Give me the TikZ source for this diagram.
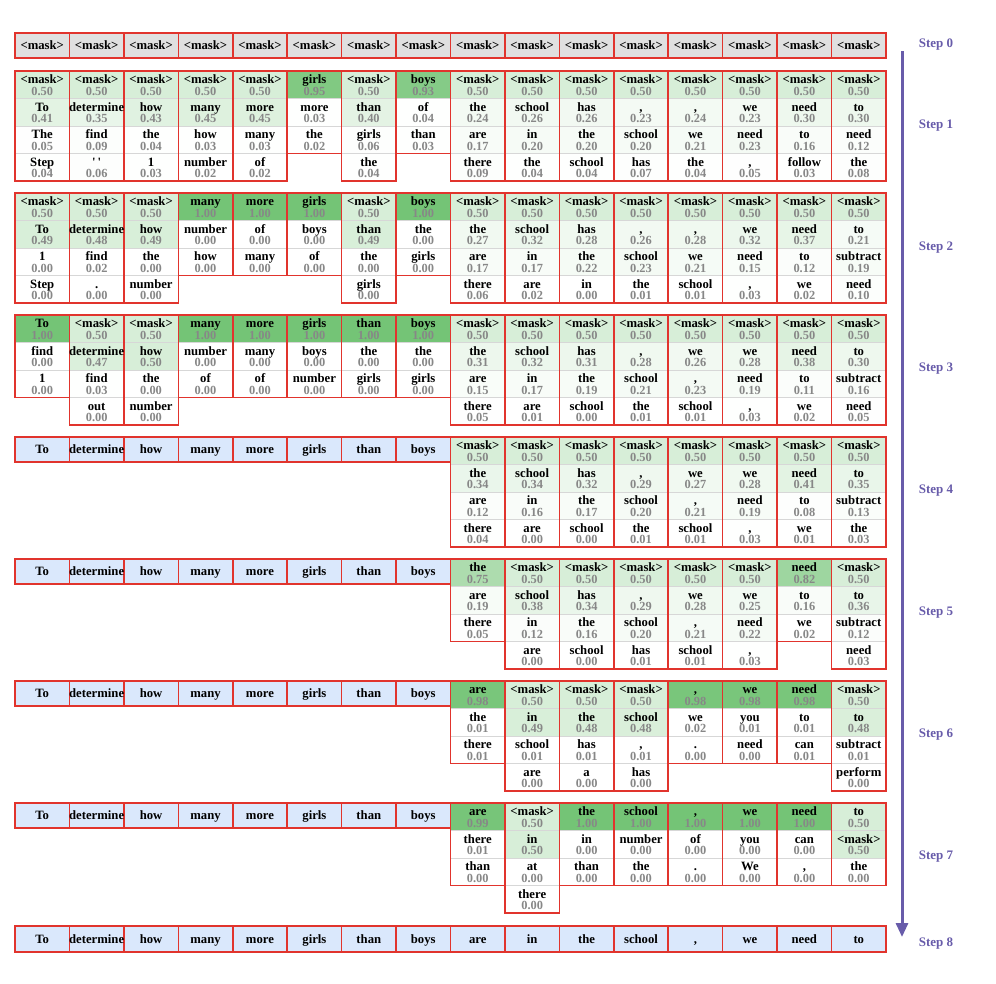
\documentclass[tikz,border=0pt]{standalone}
\usepackage{fontspec}
\setmainfont{Liberation Serif}
\usetikzlibrary{arrows.meta,fit}
\definecolor{cgreen}{RGB}{116,196,118}
\definecolor{cred}{RGB}{225,52,45}
\definecolor{cblue}{RGB}{218,232,252}
\definecolor{cgray}{RGB}{224,224,224}
\definecolor{cpurple}{RGB}{104,92,170}
\definecolor{numgray}{RGB}{135,135,135}
\definecolor{sepgray}{RGB}{215,215,215}
\tikzset{
  cellbg/.style={rectangle, anchor=north west, minimum width=54.4375, minimum height=27.5,
    inner sep=0, outer sep=0, draw=sepgray, line width=0.5},
  flatbg/.style={rectangle, anchor=north west, minimum width=54.4375,
    inner sep=0, outer sep=0},
  redbox/.style={rectangle, inner sep=0, outer sep=0, draw=cred, line width=1.6},
  wordtxt/.style={anchor=base, inner sep=0, font=\fontsize{12.7}{13}\selectfont\bfseries},
  probtxt/.style={anchor=base, inner sep=0, text=numgray, font=\fontsize{12.4}{13}\selectfont\bfseries},
  steplbl/.style={inner sep=0, text=cpurple, font=\fontsize{13}{13}\selectfont\bfseries},
  arrowline/.style={draw=cpurple, line width=3, -{Triangle[width=12,length=14]}}
}
\def\drawmode{0}
\newcommand\stepcol[5]{%
  \pgfmathsetmacro\xl{15+(#2-1)*54.4375}%
  \ifcase\drawmode
    \foreach[count=\r] \w/\p in {#5}{%
      \pgfmathsetmacro\yt{#3+(\r-1)*27.5}%
      \pgfmathsetmacro\pc{100*(0.85*\p*\p+0.15*\p)}%
      \node[cellbg, fill=cgreen!\pc!white] (s#1c#2r\r) at (\xl,-\yt) {};
    }%
  \or
    \node[redbox, fit=(s#1c#2r1)(s#1c#2r#4)] (box#1c#2) {};
  \or
    \foreach[count=\r] \w/\p in {#5}{%
      \node[wordtxt] (s#1c#2r\r-w) at ([yshift=-12.7]s#1c#2r\r.north) {\w};
      \node[probtxt] (s#1c#2r\r-p) at ([yshift=-24]s#1c#2r\r.north) {\p};
    }%
  \fi
}
\newcommand\flatcell[6]{%
  \pgfmathsetmacro\xl{15+(#2-1)*54.4375}%
  \ifcase\drawmode
    \node[flatbg, fill=#5, minimum height=#4] (#1) at (\xl,-#3) {};
  \or
    \node[redbox, fit=(#1)] (#1-box) {};
  \or
    \node[wordtxt] (#1-w) at ([yshift=-4.3]#1.center) {#6};
  \fi
}
\newcommand\alldata{%
% Step 0
\foreach \c in {1,...,16} {\flatcell{f0-\c}{\c}{33}{25}{cgray}{<mask>}}
% Step 1
\stepcol{1}{1}{71}{4}{<mask>/0.50, To/0.41, The/0.05, Step/0.04}
\stepcol{1}{2}{71}{4}{<mask>/0.50, determine/0.35, find/0.09, {\textquotesingle\,\textquotesingle}/0.06}
\stepcol{1}{3}{71}{4}{<mask>/0.50, how/0.43, the/0.04, 1/0.03}
\stepcol{1}{4}{71}{4}{<mask>/0.50, many/0.45, how/0.03, number/0.02}
\stepcol{1}{5}{71}{4}{<mask>/0.50, more/0.45, many/0.03, of/0.02}
\stepcol{1}{6}{71}{3}{girls/0.95, more/0.03, the/0.02}
\stepcol{1}{7}{71}{4}{<mask>/0.50, than/0.40, girls/0.06, the/0.04}
\stepcol{1}{8}{71}{3}{boys/0.93, of/0.04, than/0.03}
\stepcol{1}{9}{71}{4}{<mask>/0.50, the/0.24, are/0.17, there/0.09}
\stepcol{1}{10}{71}{4}{<mask>/0.50, school/0.26, in/0.20, the/0.04}
\stepcol{1}{11}{71}{4}{<mask>/0.50, has/0.26, the/0.20, school/0.04}
\stepcol{1}{12}{71}{4}{<mask>/0.50, {,}/0.23, school/0.20, has/0.07}
\stepcol{1}{13}{71}{4}{<mask>/0.50, {,}/0.24, we/0.21, the/0.04}
\stepcol{1}{14}{71}{4}{<mask>/0.50, we/0.23, need/0.23, {,}/0.05}
\stepcol{1}{15}{71}{4}{<mask>/0.50, need/0.30, to/0.16, follow/0.03}
\stepcol{1}{16}{71}{4}{<mask>/0.50, to/0.30, need/0.12, the/0.08}
% Step 2
\stepcol{2}{1}{193}{4}{<mask>/0.50, To/0.49, 1/0.00, Step/0.00}
\stepcol{2}{2}{193}{4}{<mask>/0.50, determine/0.48, find/0.02, ./0.00}
\stepcol{2}{3}{193}{4}{<mask>/0.50, how/0.49, the/0.00, number/0.00}
\stepcol{2}{4}{193}{3}{many/1.00, number/0.00, how/0.00}
\stepcol{2}{5}{193}{3}{more/1.00, of/0.00, many/0.00}
\stepcol{2}{6}{193}{3}{girls/1.00, boys/0.00, of/0.00}
\stepcol{2}{7}{193}{4}{<mask>/0.50, than/0.49, the/0.00, girls/0.00}
\stepcol{2}{8}{193}{3}{boys/1.00, the/0.00, girls/0.00}
\stepcol{2}{9}{193}{4}{<mask>/0.50, the/0.27, are/0.17, there/0.06}
\stepcol{2}{10}{193}{4}{<mask>/0.50, school/0.32, in/0.17, are/0.02}
\stepcol{2}{11}{193}{4}{<mask>/0.50, has/0.28, the/0.22, in/0.00}
\stepcol{2}{12}{193}{4}{<mask>/0.50, {,}/0.26, school/0.23, the/0.01}
\stepcol{2}{13}{193}{4}{<mask>/0.50, {,}/0.28, we/0.21, school/0.01}
\stepcol{2}{14}{193}{4}{<mask>/0.50, we/0.32, need/0.15, {,}/0.03}
\stepcol{2}{15}{193}{4}{<mask>/0.50, need/0.37, to/0.12, we/0.02}
\stepcol{2}{16}{193}{4}{<mask>/0.50, to/0.21, subtract/0.19, need/0.10}
% Step 3
\stepcol{3}{1}{315}{3}{To/1.00, find/0.00, 1/0.00}
\stepcol{3}{2}{315}{4}{<mask>/0.50, determine/0.47, find/0.03, out/0.00}
\stepcol{3}{3}{315}{4}{<mask>/0.50, how/0.50, the/0.00, number/0.00}
\stepcol{3}{4}{315}{3}{many/1.00, number/0.00, of/0.00}
\stepcol{3}{5}{315}{3}{more/1.00, many/0.00, of/0.00}
\stepcol{3}{6}{315}{3}{girls/1.00, boys/0.00, number/0.00}
\stepcol{3}{7}{315}{3}{than/1.00, the/0.00, girls/0.00}
\stepcol{3}{8}{315}{3}{boys/1.00, the/0.00, girls/0.00}
\stepcol{3}{9}{315}{4}{<mask>/0.50, the/0.31, are/0.15, there/0.05}
\stepcol{3}{10}{315}{4}{<mask>/0.50, school/0.32, in/0.17, are/0.01}
\stepcol{3}{11}{315}{4}{<mask>/0.50, has/0.31, the/0.19, school/0.00}
\stepcol{3}{12}{315}{4}{<mask>/0.50, {,}/0.28, school/0.21, the/0.01}
\stepcol{3}{13}{315}{4}{<mask>/0.50, we/0.26, {,}/0.23, school/0.01}
\stepcol{3}{14}{315}{4}{<mask>/0.50, we/0.28, need/0.19, {,}/0.03}
\stepcol{3}{15}{315}{4}{<mask>/0.50, need/0.38, to/0.11, we/0.02}
\stepcol{3}{16}{315}{4}{<mask>/0.50, to/0.30, subtract/0.16, need/0.05}
% Steps 4-7 fixed prefix
\foreach \s/\y in {4/437,5/559,6/681,7/803} {%
  \foreach[count=\c] \w in {To,determine,how,many,more,girls,than,boys} {%
    \flatcell{f\s-\c}{\c}{\y}{25}{cblue}{\w}%
  }%
}
% Step 4
\stepcol{4}{9}{437}{4}{<mask>/0.50, the/0.34, are/0.12, there/0.04}
\stepcol{4}{10}{437}{4}{<mask>/0.50, school/0.34, in/0.16, are/0.00}
\stepcol{4}{11}{437}{4}{<mask>/0.50, has/0.32, the/0.17, school/0.00}
\stepcol{4}{12}{437}{4}{<mask>/0.50, {,}/0.29, school/0.20, the/0.01}
\stepcol{4}{13}{437}{4}{<mask>/0.50, we/0.27, {,}/0.21, school/0.01}
\stepcol{4}{14}{437}{4}{<mask>/0.50, we/0.28, need/0.19, {,}/0.03}
\stepcol{4}{15}{437}{4}{<mask>/0.50, need/0.41, to/0.08, we/0.01}
\stepcol{4}{16}{437}{4}{<mask>/0.50, to/0.35, subtract/0.13, the/0.03}
% Step 5
\stepcol{5}{9}{559}{3}{the/0.75, are/0.19, there/0.05}
\stepcol{5}{10}{559}{4}{<mask>/0.50, school/0.38, in/0.12, are/0.00}
\stepcol{5}{11}{559}{4}{<mask>/0.50, has/0.34, the/0.16, school/0.00}
\stepcol{5}{12}{559}{4}{<mask>/0.50, {,}/0.29, school/0.20, has/0.01}
\stepcol{5}{13}{559}{4}{<mask>/0.50, we/0.28, {,}/0.21, school/0.01}
\stepcol{5}{14}{559}{4}{<mask>/0.50, we/0.25, need/0.22, {,}/0.03}
\stepcol{5}{15}{559}{3}{need/0.82, to/0.16, we/0.02}
\stepcol{5}{16}{559}{4}{<mask>/0.50, to/0.36, subtract/0.12, need/0.03}
% Step 6
\stepcol{6}{9}{681}{3}{are/0.98, the/0.01, there/0.01}
\stepcol{6}{10}{681}{4}{<mask>/0.50, in/0.49, school/0.01, are/0.00}
\stepcol{6}{11}{681}{4}{<mask>/0.50, the/0.48, has/0.01, a/0.00}
\stepcol{6}{12}{681}{4}{<mask>/0.50, school/0.48, {,}/0.01, has/0.00}
\stepcol{6}{13}{681}{3}{{,}/0.98, we/0.02, ./0.00}
\stepcol{6}{14}{681}{3}{we/0.98, you/0.01, need/0.00}
\stepcol{6}{15}{681}{3}{need/0.98, to/0.01, can/0.01}
\stepcol{6}{16}{681}{4}{<mask>/0.50, to/0.48, subtract/0.01, perform/0.00}
% Step 7
\stepcol{7}{9}{803}{3}{are/0.99, there/0.01, than/0.00}
\stepcol{7}{10}{803}{4}{<mask>/0.50, in/0.50, at/0.00, there/0.00}
\stepcol{7}{11}{803}{3}{the/1.00, in/0.00, than/0.00}
\stepcol{7}{12}{803}{3}{school/1.00, number/0.00, the/0.00}
\stepcol{7}{13}{803}{3}{{,}/1.00, of/0.00, ./0.00}
\stepcol{7}{14}{803}{3}{we/1.00, you/0.00, We/0.00}
\stepcol{7}{15}{803}{3}{need/1.00, can/0.00, {,}/0.00}
\stepcol{7}{16}{803}{3}{to/0.50, <mask>/0.50, the/0.00}
% Step 8
\foreach[count=\c] \w in {To,determine,how,many,more,girls,than,boys,are,in,the,school,{,},we,need,to} {%
  \flatcell{f8-\c}{\c}{926}{26}{cblue}{\w}%
}%
}
\begin{document}
\begin{tikzpicture}[x=1pt,y=1pt]
\useasboundingbox (0,0) rectangle (996,-983);
\fill[white] (0,0) rectangle (996,-983);
\def\drawmode{0}\alldata
\def\drawmode{1}\alldata
\def\drawmode{2}\alldata
% Arrow and step labels
\coordinate (atop) at (902,-51);
\coordinate (abot) at (902,-937);
\draw[arrowline] (atop) -- (abot);
\foreach \k/\y in {0/45,1/126,2/248,3/369,4/491,5/613,6/735,7/857,8/944} {
  \node[steplbl] (lbl\k) at (936,-\y) {Step \k};
}
\end{tikzpicture}
\end{document}
